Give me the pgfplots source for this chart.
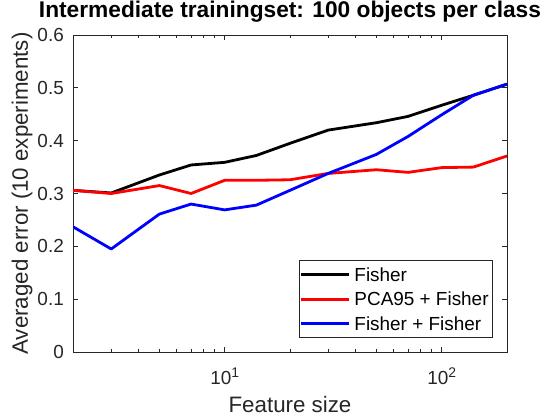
\documentclass[border=0pt]{standalone}
\usepackage{pgfplots}
\pgfplotsset{compat=1.18}
\usepackage{fontspec}
\setmainfont{Liberation Sans}
\definecolor{axgray}{HTML}{262626}
\begin{document}
\begin{tikzpicture}
\begin{axis}[
  at={(0bp,0bp)}, anchor=south west,
  scale only axis, width=434bp, height=317bp,
  xmode=log, xmin=2, xmax=200, ymin=0, ymax=0.6,
  xtick={10,100},
  xticklabels={10\raisebox{7bp}{\fontsize{14}{14}\selectfont 1}, 10\raisebox{7bp}{\fontsize{14}{14}\selectfont 2}},
  minor xtick={2,3,4,5,6,7,8,9,20,30,40,50,60,70,80,90,200},
  ytick={0,0.1,0.2,0.3,0.4,0.5,0.6},
  yticklabels={0,0.1,0.2,0.3,0.4,0.5,0.6},
  tick label style={font=\fontsize{19}{19}\selectfont, text=axgray},
  yticklabel style={anchor=east, inner xsep=0bp, xshift=-9bp},
  xticklabel style={anchor=base, yshift=-32bp},
  axis line style={axgray, line width=0.8bp},
  tick style={axgray, line width=0.8bp},
  major tick length=5bp, minor tick length=3bp,
  xlabel={Feature size},
  ylabel={Averaged error (10 experiments)},
  title={Intermediate trainingset: 100 objects per class},
  xlabel style={at={(axis description cs:0.5,-0.1924)}, anchor=base, font=\fontsize{22.4}{22.4}\selectfont, text=axgray},
  ylabel style={at={(axis description cs:-0.1037,0.5)}, anchor=base, font=\fontsize{22.4}{22.4}\selectfont, text=axgray},
  title style={at={(axis description cs:0.5,1.0369)}, anchor=base, font=\bfseries\fontsize{22.8}{22.8}\selectfont},
  legend cell align=left,
  legend style={at={(1,0)}, anchor=south east, xshift=-14bp, yshift=14bp,
    draw=axgray, line width=0.8bp, fill=white, inner xsep=0bp, inner ysep=7bp,
    row sep=11.1bp, font=\fontsize{19}{19}\selectfont,
    nodes={inner xsep=4bp, inner ysep=0bp, text height=13.6bp, text depth=0bp}},
  legend image code/.code={\path (0bp,0bp) -- (8bp,0bp); \draw[#1] (8bp,0bp) -- (48bp,0bp);},
]
\addplot[black, line width=2.8bp, line join=round] coordinates {
 (2,0.306) (3,0.301) (5,0.335) (7,0.354) (10,0.359) (14,0.372) (20,0.395)
 (30,0.420) (50,0.434) (70,0.446) (100,0.467) (140,0.486) (200,0.507)};
\addlegendentry{Fisher}
\addplot[red, line width=2.8bp, line join=round] coordinates {
 (2,0.306) (3,0.300) (5,0.315) (7,0.300) (10,0.325) (14,0.325) (20,0.326)
 (30,0.338) (50,0.345) (70,0.340) (100,0.349) (140,0.350) (200,0.371)};
\addlegendentry{PCA95 + Fisher}
\addplot[blue, line width=2.8bp, line join=round] coordinates {
 (2,0.237) (3,0.195) (5,0.261) (7,0.280) (10,0.269) (14,0.278) (20,0.306)
 (30,0.338) (50,0.374) (70,0.408) (100,0.449) (140,0.486) (200,0.507)};
\addlegendentry{Fisher + Fisher}
\end{axis}
\pgfresetboundingbox
\useasboundingbox (-73bp,-68bp) rectangle (487bp,352bp);
\end{tikzpicture}
\end{document}
